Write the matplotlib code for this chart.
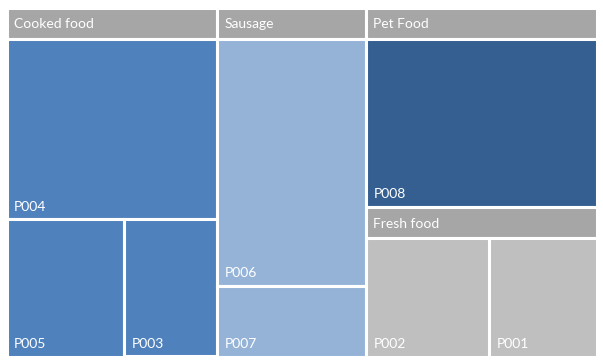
import matplotlib
matplotlib.use('Agg')
import matplotlib.pyplot as plt
from matplotlib.patches import Rectangle

# data
groups = ["Cooked food", "Sausage", "Pet Food", "Fresh food"]
items = [["P004", "P005", "P003"], ["P006", "P007"], ["P008"], ["P002", "P001"]]
values = [[203, 86, 68], [196, 56], [223], [90, 78]]
leaf_colors = ["#4F81BD", "#95B3D7", "#355F91", "#BFBFBF"]
header_color = "#A6A6A6"

# groups sharing one column of the layout
columns = [[0], [1], [2, 3]]

W, H = 590.0, 349.0
HEADER = 31.0


def worst(row, side):
    s = sum(row)
    return max(max(side * side * r / (s * s), s * s / (side * side * r)) for r in row)


def squarify(areas, x, y, w, h):
    rects = []
    areas = list(areas)
    while areas:
        side = min(w, h)
        row = [areas.pop(0)]
        while areas and worst(row + [areas[0]], side) <= worst(row, side):
            row.append(areas.pop(0))
        s = sum(row)
        if w >= h:
            cw = s / h
            yy = y
            for a in row:
                rh = a / cw
                rects.append((x, yy, cw, rh))
                yy += rh
            x += cw
            w -= cw
        else:
            rh = s / w
            xx = x
            for a in row:
                rw = a / rh
                rects.append((xx, y, rw, rh))
                xx += rw
            y += rh
            h -= rh
    return rects


fig = plt.figure(figsize=(6.03, 3.62), dpi=100)
ax = fig.add_axes([6.5 / 603, 5.5 / 362, 590 / 603, 349 / 362])
ax.set_xlim(0, W)
ax.set_ylim(H, 0)
ax.axis('off')

font = dict(family=['Lato', 'DejaVu Sans'], color='white', fontsize=10)
lw = 2.2
total = float(sum(sum(v) for v in values))

x0 = 0.0
for col in columns:
    col_total = sum(sum(values[g]) for g in col)
    cw = W * col_total / total
    y0 = 0.0
    for g in col:
        gh = H * sum(values[g]) / col_total
        # header band
        ax.add_patch(Rectangle((x0, y0), cw, HEADER, facecolor=header_color,
                               edgecolor='white', linewidth=lw))
        ax.text(x0 + 7.5, y0 + HEADER / 2 + 1.5, groups[g], va='center', ha='left', **font)
        ch = gh - HEADER
        scale = cw * ch / sum(values[g])
        rects = squarify([v * scale for v in values[g]], x0, y0 + HEADER, cw, ch)
        for (rx, ry, rw, rh), name in zip(rects, items[g]):
            ax.add_patch(Rectangle((rx, ry), rw, rh, facecolor=leaf_colors[g],
                                   edgecolor='white', linewidth=lw))
            ax.text(rx + 7.5, ry + rh - 12.5, name, va='center', ha='left', **font)
        y0 += gh
    x0 += cw

plt.savefig("out.png", dpi=100)
